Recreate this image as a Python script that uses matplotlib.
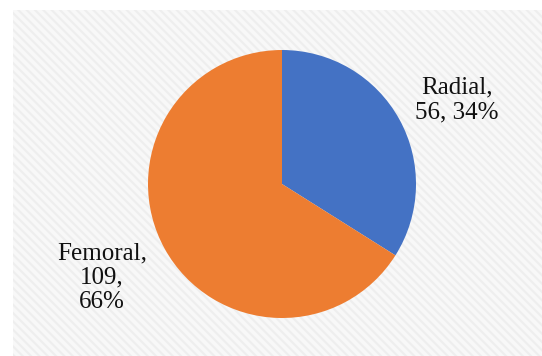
import matplotlib.pyplot as plt
from matplotlib.patches import Rectangle

labels = ['Radial', 'Femoral']
counts = [56, 109]
colors = ['#4472C4', '#ED7D31']
# label positions in pie units (radius = 1)
label_xy = [(1.306, 0.627), (-1.343, -0.70)]
label_breaks = [['{0},', '{1}, {2}%'], ['{0},', '{1},', '{2}%']]

plt.rcParams['font.family'] = ['Liberation Serif', 'DejaVu Serif']
plt.rcParams['hatch.linewidth'] = 1.5

fig = plt.figure(figsize=(5.42, 3.56), dpi=100)
fig.patch.set_facecolor('white')

bg = Rectangle((13 / 542, 0), 1 - 13 / 542, 1 - 10 / 356, transform=fig.transFigure,
               facecolor='#f8f8f8', edgecolor='#eeeeee', linewidth=0, hatch='\\\\\\\\', zorder=-5)
fig.patches.append(bg)

cx, cy, r = 282, 184, 134
ax = fig.add_axes([(cx - r) / 542, (356 - cy - r) / 356, 2 * r / 542, 2 * r / 356])
ax.set_facecolor('none')
ax.pie(counts, colors=colors, startangle=90, counterclock=False, radius=1,
       wedgeprops=dict(linewidth=0))
ax.set_xlim(-1, 1)
ax.set_ylim(-1, 1)
ax.set_aspect('auto')
ax.axis('off')

total = sum(counts)
for lab, n, (x, y), parts in zip(labels, counts, label_xy, label_breaks):
    pct = round(100 * n / total)
    txt = '\n'.join(p.format(lab, n, pct) for p in parts)
    ax.text(x, y, txt, ha='center', va='center', fontsize=18, linespacing=1.15,
            color='#111111', clip_on=False)

fig.savefig('out.png', dpi=100)
